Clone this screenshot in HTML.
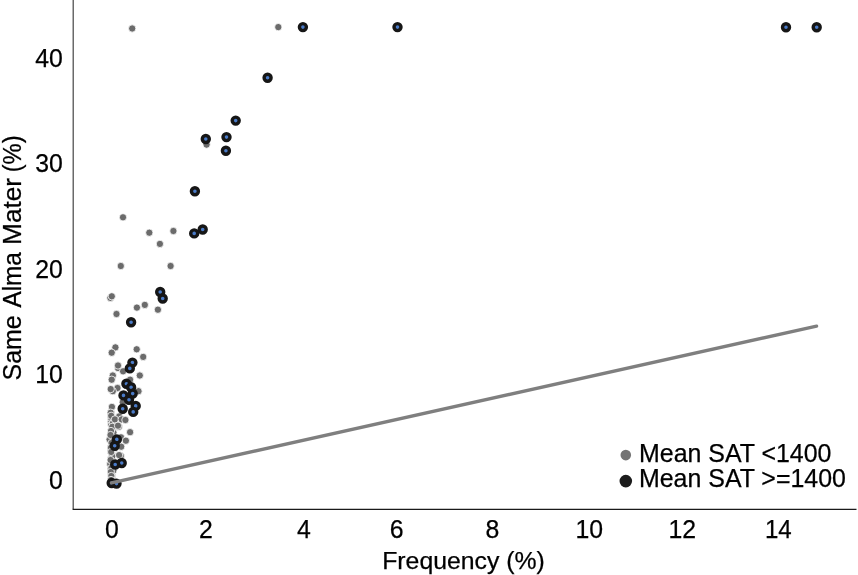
<!DOCTYPE html>
<html><head><meta charset="utf-8"><title>Scatter</title>
<style>
html,body{margin:0;padding:0;background:#fff;}
body{width:858px;height:575px;overflow:hidden;position:relative;}
svg{position:absolute;left:0;top:0;display:block;}
text{font-family:"Liberation Sans",sans-serif;fill:#000;stroke:#000;stroke-width:0.25px;}
</style></head><body>
<svg width="858" height="575" viewBox="0 0 858 575">
<rect width="858" height="575" fill="#fff"/>
<g fill="#6b6b6b" stroke="#fff" stroke-width="0.8">
<circle cx="111.8" cy="419.5" r="3.65"/>
<circle cx="110.9" cy="449.5" r="3.65"/>
<circle cx="110.8" cy="451.3" r="3.65"/>
<circle cx="110.7" cy="468.7" r="3.65"/>
<circle cx="111.0" cy="421.3" r="3.65"/>
<circle cx="114.9" cy="438.6" r="3.65"/>
<circle cx="112.4" cy="468.6" r="3.65"/>
<circle cx="110.9" cy="412.4" r="3.65"/>
<circle cx="111.7" cy="452.1" r="3.65"/>
<circle cx="111.8" cy="460.8" r="3.65"/>
<circle cx="112.6" cy="455.1" r="3.65"/>
<circle cx="111.5" cy="448.5" r="3.65"/>
<circle cx="113.2" cy="424.7" r="3.65"/>
<circle cx="111.1" cy="438.8" r="3.65"/>
<circle cx="112.1" cy="458.9" r="3.65"/>
<circle cx="112.0" cy="475.5" r="3.65"/>
<circle cx="111.0" cy="432.4" r="3.65"/>
<circle cx="111.9" cy="476.7" r="3.65"/>
<circle cx="111.2" cy="472.1" r="3.65"/>
<circle cx="111.0" cy="417.8" r="3.65"/>
<circle cx="112.3" cy="479.2" r="3.65"/>
<circle cx="111.3" cy="424.7" r="3.65"/>
<circle cx="111.5" cy="441.6" r="3.65"/>
<circle cx="111.4" cy="448.0" r="3.65"/>
<circle cx="112.2" cy="447.9" r="3.65"/>
<circle cx="111.7" cy="476.2" r="3.65"/>
<circle cx="112.5" cy="470.2" r="3.65"/>
<circle cx="110.7" cy="413.4" r="3.65"/>
<circle cx="113.3" cy="470.6" r="3.65"/>
<circle cx="111.2" cy="446.7" r="3.65"/>
<circle cx="111.2" cy="458.5" r="3.65"/>
<circle cx="113.0" cy="447.0" r="3.65"/>
<circle cx="112.9" cy="423.4" r="3.65"/>
<circle cx="111.6" cy="481.2" r="3.65"/>
<circle cx="119.2" cy="416.4" r="3.65"/>
<circle cx="113.4" cy="432.5" r="3.65"/>
<circle cx="118.9" cy="426.7" r="3.65"/>
<circle cx="112.4" cy="455.6" r="3.65"/>
<circle cx="112.4" cy="442.7" r="3.65"/>
<circle cx="115.0" cy="447.9" r="3.65"/>
<circle cx="120.8" cy="456.0" r="3.65"/>
<circle cx="121.0" cy="437.3" r="3.65"/>
<circle cx="112.7" cy="427.5" r="3.65"/>
<circle cx="112.3" cy="442.0" r="3.65"/>
<circle cx="132.2" cy="28.5" r="3.65"/>
<circle cx="278.3" cy="27.1" r="3.65"/>
<circle cx="206.6" cy="144.6" r="3.65"/>
<circle cx="123.0" cy="217.3" r="3.65"/>
<circle cx="149.3" cy="232.7" r="3.65"/>
<circle cx="173.4" cy="231.0" r="3.65"/>
<circle cx="159.9" cy="243.9" r="3.65"/>
<circle cx="120.8" cy="266.0" r="3.65"/>
<circle cx="170.6" cy="266.0" r="3.65"/>
<circle cx="110.4" cy="297.9" r="3.65"/>
<circle cx="111.8" cy="296.3" r="3.65"/>
<circle cx="136.9" cy="307.6" r="3.65"/>
<circle cx="144.8" cy="304.9" r="3.65"/>
<circle cx="157.9" cy="309.7" r="3.65"/>
<circle cx="116.5" cy="314.0" r="3.65"/>
<circle cx="115.4" cy="347.4" r="3.65"/>
<circle cx="111.7" cy="352.7" r="3.65"/>
<circle cx="136.7" cy="349.3" r="3.65"/>
<circle cx="143.2" cy="356.9" r="3.65"/>
<circle cx="118.0" cy="368.1" r="3.65"/>
<circle cx="118" cy="365.5" r="3.65"/>
<circle cx="123.1" cy="371.3" r="3.65"/>
<circle cx="112.8" cy="375.5" r="3.65"/>
<circle cx="111.7" cy="379.7" r="3.65"/>
<circle cx="139.8" cy="375.5" r="3.65"/>
<circle cx="130.1" cy="379.7" r="3.65"/>
<circle cx="117.5" cy="388.0" r="3.65"/>
<circle cx="112.8" cy="391.2" r="3.65"/>
<circle cx="110.7" cy="389.1" r="3.65"/>
<circle cx="138.5" cy="391.2" r="3.65"/>
<circle cx="111.9" cy="406.9" r="3.65"/>
<circle cx="110.7" cy="412.7" r="3.65"/>
<circle cx="122.7" cy="402.2" r="3.65"/>
<circle cx="111.2" cy="415.8" r="3.65"/>
<circle cx="114.9" cy="419.4" r="3.65"/>
<circle cx="121.7" cy="419.4" r="3.65"/>
<circle cx="125.4" cy="420" r="3.65"/>
<circle cx="112.3" cy="426.8" r="3.65"/>
<circle cx="118.0" cy="425.7" r="3.65"/>
<circle cx="130.1" cy="432.2" r="3.65"/>
<circle cx="125.9" cy="440.7" r="3.65"/>
<circle cx="109.6" cy="439.4" r="3.65"/>
<circle cx="112.3" cy="456.2" r="3.65"/>
<circle cx="119.1" cy="455.1" r="3.65"/>
<circle cx="121.2" cy="446.7" r="3.65"/>
<circle cx="110.2" cy="464" r="3.65"/>
<circle cx="111" cy="431" r="3.65"/>
<circle cx="110.5" cy="435" r="3.65"/>
<circle cx="111.5" cy="443" r="3.65"/>
<circle cx="110.8" cy="448" r="3.65"/>
<circle cx="111.2" cy="452" r="3.65"/>
<circle cx="110.6" cy="460" r="3.65"/>
<circle cx="111.4" cy="468" r="3.65"/>
<circle cx="110.8" cy="472" r="3.65"/>
<circle cx="111.3" cy="476" r="3.65"/>
<circle cx="111" cy="480" r="3.65"/>
</g>
<g fill="#4a7bc8" stroke="#161616" stroke-width="3.4">
<circle cx="302.9" cy="27.1" r="3.5"/>
<circle cx="397.5" cy="27.1" r="3.5"/>
<circle cx="786.0" cy="27.2" r="3.5"/>
<circle cx="816.7" cy="27.2" r="3.5"/>
<circle cx="267.6" cy="77.8" r="3.5"/>
<circle cx="235.7" cy="120.6" r="3.5"/>
<circle cx="226.5" cy="137.1" r="3.5"/>
<circle cx="205.8" cy="139.0" r="3.5"/>
<circle cx="225.9" cy="150.8" r="3.5"/>
<circle cx="194.9" cy="191.3" r="3.5"/>
<circle cx="202.7" cy="229.5" r="3.5"/>
<circle cx="194.2" cy="233.4" r="3.5"/>
<circle cx="160.2" cy="292.0" r="3.5"/>
<circle cx="162.7" cy="298.5" r="3.5"/>
<circle cx="131.1" cy="322.3" r="3.5"/>
<circle cx="132.4" cy="362.6" r="3.5"/>
<circle cx="129.8" cy="368.4" r="3.5"/>
<circle cx="126.4" cy="383.8" r="3.5"/>
<circle cx="131.1" cy="387.3" r="3.5"/>
<circle cx="132.7" cy="393.6" r="3.5"/>
<circle cx="123.5" cy="395.4" r="3.5"/>
<circle cx="129.0" cy="399.8" r="3.5"/>
<circle cx="135.7" cy="405.9" r="3.5"/>
<circle cx="122.7" cy="408.7" r="3.5"/>
<circle cx="133.2" cy="411.9" r="3.5"/>
<circle cx="116.8" cy="439.4" r="3.5"/>
<circle cx="114.7" cy="445.7" r="3.5"/>
<circle cx="121.7" cy="463.0" r="3.5"/>
<circle cx="115.2" cy="464.5" r="3.5"/>
<circle cx="111.7" cy="483.0" r="3.5"/>
<circle cx="116.5" cy="483.6" r="3.5"/>
</g>
<line x1="111.4" y1="482.9" x2="816.6" y2="326.1" stroke="#7f7f7f" stroke-width="3.3" stroke-linecap="round"/>
<path d="M73.2 0V509.2" fill="none" stroke="#444" stroke-width="1.2"/>
<path d="M72.6 509.4H856.5" fill="none" stroke="#1a1a1a" stroke-width="1.15"/>
<g font-size="25.5" text-anchor="end">
<text x="62.8" y="67.0" textLength="27.6" lengthAdjust="spacingAndGlyphs">40</text>
<text x="62.8" y="171.7" textLength="27.6" lengthAdjust="spacingAndGlyphs">30</text>
<text x="62.8" y="278.4" textLength="27.6" lengthAdjust="spacingAndGlyphs">20</text>
<text x="62.8" y="383.4" textLength="27.6" lengthAdjust="spacingAndGlyphs">10</text>
<text x="62.8" y="489.1" textLength="13.8" lengthAdjust="spacingAndGlyphs">0</text>
</g>
<g font-size="25.6" text-anchor="middle">
<text x="111.9" y="537.7" textLength="13.8" lengthAdjust="spacingAndGlyphs">0</text>
<text x="206" y="537.7" textLength="13.8" lengthAdjust="spacingAndGlyphs">2</text>
<text x="304" y="537.7" textLength="13.8" lengthAdjust="spacingAndGlyphs">4</text>
<text x="396.6" y="537.7" textLength="13.8" lengthAdjust="spacingAndGlyphs">6</text>
<text x="492.5" y="537.7" textLength="13.8" lengthAdjust="spacingAndGlyphs">8</text>
<text x="589.3" y="537.7" textLength="27.6" lengthAdjust="spacingAndGlyphs">10</text>
<text x="682.3" y="537.7" textLength="27.6" lengthAdjust="spacingAndGlyphs">12</text>
<text x="778.3" y="537.7" textLength="26.8" lengthAdjust="spacingAndGlyphs">14</text>
<text x="463.5" y="569" font-size="24.8" textLength="162.6" lengthAdjust="spacingAndGlyphs">Frequency (%)</text>
</g>
<text font-size="25.9" transform="translate(21 379.3) rotate(-90)"><tspan x="-1.2" textLength="65.2" lengthAdjust="spacingAndGlyphs">Same</tspan> <tspan x="71.8" textLength="55.4" lengthAdjust="spacingAndGlyphs">Alma</tspan> <tspan x="134.4" textLength="67" lengthAdjust="spacingAndGlyphs">Mater</tspan> <tspan x="207" textLength="37" lengthAdjust="spacingAndGlyphs">(%)</tspan></text>
<circle cx="625.8" cy="455.1" r="5.3" fill="#747474"/>
<circle cx="625.8" cy="481.1" r="6.3" fill="#1c1c1c"/>
<text font-size="25.3" x="639" y="461.8" textLength="192.4" lengthAdjust="spacingAndGlyphs">Mean SAT &lt;1400</text>
<text font-size="25.3" x="639" y="487" textLength="206.9" lengthAdjust="spacingAndGlyphs">Mean SAT &gt;=1400</text>
</svg>
</body></html>
